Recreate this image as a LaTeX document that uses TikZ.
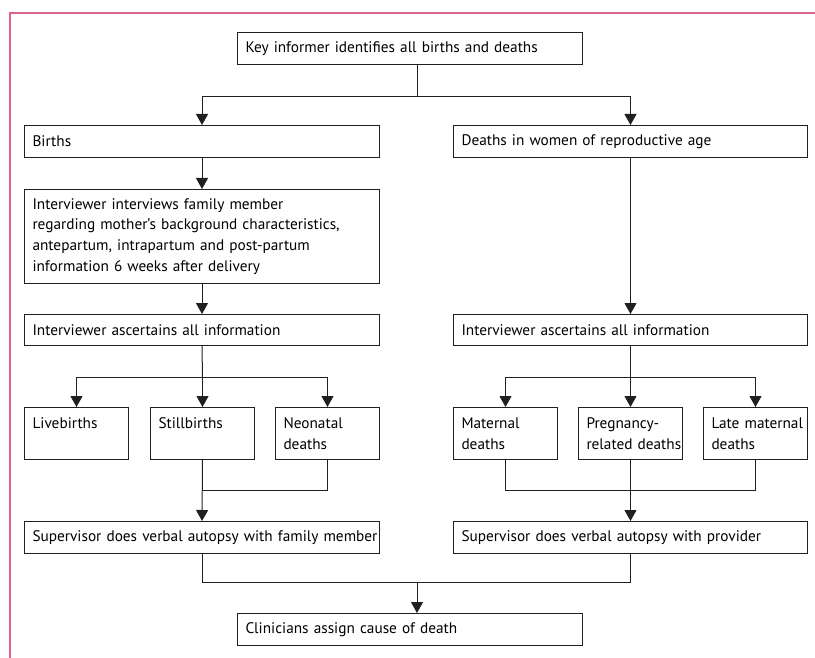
\documentclass[tikz,border=0pt]{standalone}
\usepackage{fontspec}
\usetikzlibrary{arrows.meta}
\newfontfamily\boxfont{PT Sans}
\definecolor{linecol}{RGB}{35,31,32}
\definecolor{framecol}{RGB}{222,100,140}
\begin{document}
\begin{tikzpicture}[x=1pt,y=-1pt,
  box/.style={draw=linecol,line width=1pt,rectangle,anchor=north west,align=left,
    inner xsep=8pt,inner ysep=5pt,font=\boxfont\fontsize{15.3}{20.8}\selectfont},
  wide/.style={box,text width=339pt,minimum height=32pt},
  small/.style={box,text width=88pt,minimum height=52pt},
  arr/.style={-{Triangle[width=12pt,length=11pt]},draw=linecol,line width=1pt},
  ln/.style={draw=linecol,line width=1pt}]
\useasboundingbox (0,0) rectangle (815,658);
\draw[framecol,line width=1.3pt] (10,658) -- (10,13) -- (815,13);

\node[box,text width=329pt,minimum height=32pt] (key) at (237,32) {Key informer identifies all births and deaths};
\node[wide] (births) at (24,125) {Births};
\node[wide,text width=338pt] (dwra) at (453,125) {Deaths in women of reproductive age};
\node[wide,minimum height=94pt] (interv) at (24,189) {Interviewer interviews family member\\regarding mother’s background characteristics,\\antepartum, intrapartum and post-partum\\information 6 weeks after delivery};
\node[wide,minimum height=31pt] (ascl) at (24,314) {Interviewer ascertains all information};
\node[wide,text width=338pt,minimum height=31pt] (ascr) at (453,314) {Interviewer ascertains all information};

\node[small] (live) at (24,407) {Livebirths\\~};
\node[small] (still) at (150,407) {Stillbirths\\~};
\node[small] (neo) at (275,407) {Neonatal\\deaths};
\node[small] (mat) at (453,407) {Maternal\\deaths};
\node[small] (preg) at (578,407) {Pregnancy-\\\mbox{related deaths}};
\node[small] (late) at (703,407) {\mbox{Late maternal}\\deaths};

\node[wide] (supl) at (24,521) {\mbox{Supervisor does verbal autopsy with family member}};
\node[wide,text width=338pt] (supr) at (453,521) {Supervisor does verbal autopsy with provider};
\node[box,text width=329pt,minimum height=32pt] (clin) at (237,613) {Clinicians assign cause of death};

\coordinate (top) at (417,96.5);
\coordinate (bot) at (417,582.5);
\coordinate (lsplit) at (202.5,377.5);
\coordinate (rsplit) at (630.5,377.5);
\coordinate (lmerge) at (202.5,490.5);
\coordinate (rmerge) at (630.5,490.5);

\draw[ln] (key.south -| top) -- (top);
\draw[arr] (top) -| (births.north);
\draw[arr] (top) -| (dwra.north);
\draw[arr] (births) -- (interv);
\draw[arr] (interv) -- (ascl);
\draw[arr] (dwra) -- (ascr);

\draw[ln] (ascl.south) -- (lsplit);
\draw[arr] (lsplit) -| (live.north);
\draw[arr] (lsplit) -- (still.north);
\draw[arr] (lsplit) -| (neo.north);
\draw[ln] (ascr.south) -- (rsplit);
\draw[arr] (rsplit) -| (mat.north);
\draw[arr] (rsplit) -- (preg.north);
\draw[arr] (rsplit) -| (late.north);

\draw[ln] (neo.south) |- (lmerge);
\draw[arr] (still.south) -- (supl.north);
\draw[ln] (mat.south) |- (rmerge) -| (late.south);
\draw[arr] (preg.south) -- (supr.north);

\draw[ln] (supl.south) |- (bot);
\draw[ln] (supr.south) |- (bot);
\draw[arr] (bot) -- (clin.north -| bot);
\end{tikzpicture}
\end{document}
